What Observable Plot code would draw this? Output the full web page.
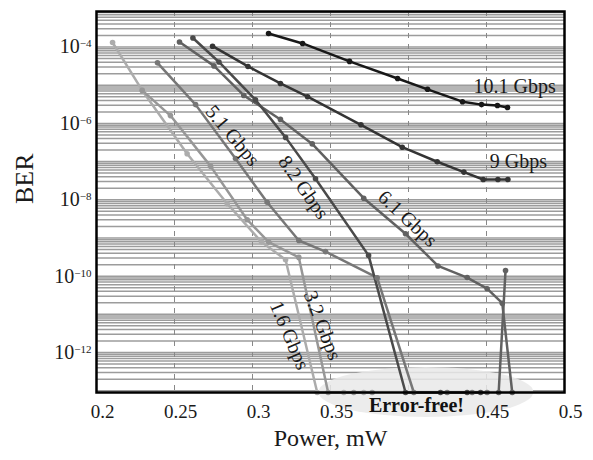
<!DOCTYPE html>
<html><head><meta charset="utf-8">
<script src="https://cdn.jsdelivr.net/npm/d3@7"></script>
<script src="https://cdn.jsdelivr.net/npm/@observablehq/plot@0.6"></script>
<style>
body{margin:0;background:#fff;}
#chart svg{display:block;font-family:"Liberation Serif","DejaVu Serif",serif;}
</style></head><body><div id="chart"></div>
<script>
// Error-free measurements are drawn on the bottom edge of the chart
const EF = 9e-14;

const seriesNames = ["1.6 Gbps","3.2 Gbps","5.1 Gbps","6.1 Gbps","8.2 Gbps","9 Gbps","10.1 Gbps"];

// Received power (mW) and BER per bit rate
const power16  = [0.2103,0.2293,0.2581,0.2838,0.3058,0.3212,0.3415,0.3585,0.3713];
const ber16    = [1.31e-4,7.3e-6,1.6e-7,7.9e-9,7.8e-10,2.7e-10,EF,EF,EF];

const power32  = [0.2293,0.2474,0.2731,0.2966,0.3104,0.3297,0.3485,0.3649,0.3767];
const ber32    = [7.3e-6,1.6e-6,7.6e-8,3.0e-9,7.8e-10,3.1e-10,EF,EF,EF];

const power51  = [0.2391,0.2635,0.2891,0.3094,0.3297,0.3468,0.3799,0.4034,0.4248,0.4408,0.4504];
const ber51    = [3.85e-5,3.1e-6,1.2e-7,8.65e-9,8.6e-10,4.4e-10,9.1e-11,EF,EF,EF,EF];

const power61  = [0.2532,0.2753,0.2944,0.3179,0.3383,0.3713,0.3981,0.4189,0.4376,0.4504,0.4601,0.4665];
const ber61    = [1.35e-4,3.2e-5,5.4e-6,1.27e-6,2.9e-7,1.1e-8,1.29e-9,1.85e-10,9.2e-11,4.7e-11,1.96e-11,EF];
// 6.1 Gbps repeated high-power measurement
const power61b = [0.4578,0.4622];
const ber61b   = [EF,1.41e-10];

const power82  = [0.2618,0.2785,0.3019,0.3212,0.3404,0.3744,0.3981,0.4205,0.4376,0.4462];
const ber82    = [1.72e-4,4.05e-5,4.15e-6,4.3e-7,3.55e-8,3.5e-10,EF,EF,EF,EF];

const power9   = [0.2744,0.2971,0.3179,0.3353,0.3695,0.3960,0.4184,0.4355,0.4479,0.4573,0.4637];
const ber9     = [1.05e-4,3.1e-5,1.11e-5,5.0e-6,9.2e-7,2.38e-7,9.9e-8,5.3e-8,3.4e-8,3.4e-8,3.4e-8];

const power101 = [0.3103,0.3321,0.3622,0.3930,0.4122,0.4346,0.4468,0.4570,0.4635];
const ber101   = [2.25e-4,1.24e-4,4.2e-5,1.5e-5,7.8e-6,3.7e-6,3.1e-6,2.95e-6,2.6e-6];

// axis ticks
const xTickValues = [0.2,0.25,0.3,0.35,0.45,0.5];
const xGridValues = [0.25,0.3,0.35,0.4,0.45];
const yTickValues = [1e-4,1e-6,1e-8,1e-10,1e-12];

// annotations (series labels)
const labelText = ["10.1 Gbps","9 Gbps","5.1 Gbps","8.2 Gbps","6.1 Gbps","1.6 Gbps","3.2 Gbps"];
const labelPower = [0.468,0.4705,0.2872,0.3327,0.3994,0.3237,0.3449];
const labelBer = [9.25e-6,1.0e-7,4.8e-7,2.1e-8,3.2e-9,2.8e-12,5.1e-12];
const labelAngle = [0,0,50,55,43,67,69];

const errorFree = {text:"Error-free!", power:0.4051, ber:EF};

// build table
const groups = [
  ["1.6 Gbps","1.6",power16,ber16],
  ["3.2 Gbps","3.2",power32,ber32],
  ["5.1 Gbps","5.1",power51,ber51],
  ["6.1 Gbps","6.1",power61,ber61],
  ["6.1 Gbps","6.1b",power61b,ber61b],
  ["8.2 Gbps","8.2",power82,ber82],
  ["9 Gbps","9",power9,ber9],
  ["10.1 Gbps","10.1",power101,ber101]
];
const rows = groups.flatMap(([series,group,p,b]) => p.map((v,i)=>({series,group,power:v,ber:b[i]})));
const labels = labelText.map((t,i)=>({text:t,power:labelPower[i],ber:labelBer[i],angle:labelAngle[i]}));

const seriesColors = ["#acacac","#979797","#777777","#616161","#4a4a4a","#343434","#181818"];

// minor log grid lines
const yDomain = [EF, 8.5e-4];
const gridY = [];
for (let k=-14;k<=-3;k++) for (let d=1;d<=9;d++){const v=d*Math.pow(10,k); if(v>yDomain[0]*1.0001 && v<yDomain[1]) gridY.push(v);}

const plot = Plot.plot({
  width:593, height:460,
  marginLeft:96, marginRight:29, marginTop:11, marginBottom:68,
  style:{fontFamily:'"Liberation Serif","DejaVu Serif",serif', background:"#fff"},
  x:{domain:[0.2,0.5]},
  y:{type:"log", domain:yDomain},
  color:{domain:seriesNames, range:seriesColors},
  marks:[
    Plot.ruleY(gridY,{stroke:"#9c9c9c", strokeWidth:1.5}),
    Plot.ruleX(xGridValues,{stroke:"#888", strokeWidth:1, strokeDasharray:"5,6"}),
    Plot.line(rows,{x:"power", y:"ber", z:"group", stroke:"series", strokeWidth:2.5}),
    Plot.dot(rows,{x:"power", y:"ber", fill:"series", r:2.8}),
    Plot.text(labels,{x:"power", y:"ber", text:"text", rotate:"angle", fontSize:20, fill:"#1a1a1a"}),
    Plot.text([errorFree],{x:"power", y:"ber", text:"text", fontSize:20, fontWeight:"bold", fill:"#111", dy:13}),
    Plot.frame({stroke:"#000", strokeWidth:2.5}),
    Plot.axisX({ticks:xTickValues, tickSize:0, tickPadding:12, fontSize:19, dx:6, label:null, tickFormat:d=>String(d), fill:"#1a1a1a"}),
    Plot.axisY({ticks:yTickValues, tickSize:0, tickPadding:5, fontSize:20, label:null, fill:"#1a1a1a",
      tickFormat:d=>"10^" + String(Math.round(Math.log10(d))).replace("-","\u2212")}),
    Plot.text(["Power, mW"],{frameAnchor:"bottom", dy:53, fontSize:24, fill:"#1a1a1a"}),
    Plot.text(["BER"],{frameAnchor:"left", dx:-72, dy:2, rotate:-90, fontSize:26, fill:"#1a1a1a"})
  ]
});

// superscripts on the y tick labels
d3.select(plot).selectAll('g[aria-label="y-axis tick label"] text').each(function(){
  const t = this.textContent; const parts = t.split("^");
  if (parts.length!==2) return;
  const sel = d3.select(this); sel.text(null);
  sel.append("tspan").text(parts[0]);
  sel.append("tspan").attr("dy","-6").attr("font-size","11").text(parts[1]);
});

// shaded "error-free" zone
const xs = plot.scale("x"), ys = plot.scale("y");
const cx = xs.apply(0.4115), rx = xs.apply(0.4115+0.0689)-cx, cy = ys.apply(EF);
d3.select(plot).insert("ellipse",'g[aria-label="line"]')
  .attr("cx",cx).attr("cy",cy).attr("rx",rx).attr("ry",25)
  .attr("fill","#e9e9e9").attr("fill-opacity",0.85);

document.getElementById("chart").appendChild(plot);
</script></body></html>
